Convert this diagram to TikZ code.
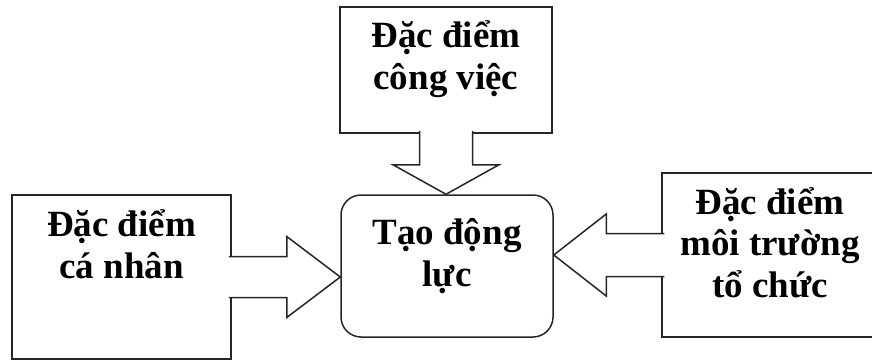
\documentclass[tikz,border=0pt]{standalone}
\usepackage{fontspec}
\setmainfont{Liberation Serif}
\usetikzlibrary{calc}

\begin{document}
\begin{tikzpicture}[
  x=1pt, y=-1pt,
  box/.style={draw=black!85, line width=1.5pt, inner sep=0pt},
  caption/.style={font=\bfseries\fontsize{37}{41.5}\selectfont, align=center, anchor=base, inner sep=0pt},
  blockarrow/.style={draw=black!85, fill=white, line width=1.5pt, line join=miter}
]
\path[use as bounding box, clip] (0,0) rectangle (872,360);

% Boxes
\node[box, minimum width=212pt, minimum height=126pt] (job) at (446,70) {};
\node[box, rounded corners=20pt, minimum width=212pt, minimum height=142pt] (motive) at (447,266) {};
\node[box, minimum width=219pt, minimum height=164pt] (person) at (121.5,277) {};
\node[box, minimum width=216pt, minimum height=164pt] (env) at (770,255) {};

% Texts (base = baseline of the last line)
\node[caption] (jobtext) at ($(job.north)+(0,83)$) {Đặc điểm\\công việc};
\node[caption] (motivetext) at ($(motive.north)+(0,92)$) {Tạo động\\lực};
\node[caption] (persontext) at ($(person.north)+(0,84)$) {Đặc điểm\\cá nhân};
\node[caption] (envtext) at ($(env.north)+(0,125)$) {Đặc điểm\\môi trường\\tổ chức};

% Block arrows into the middle box
\filldraw[blockarrow] ($(job.south)+(-26.5,-3)$) -- ++(0,34) -- ++(-26.5,0)
  -- (job.south |- motive.north) -- ($(job.south)+(53,31)$) -- ++(-26.5,0) -- ++(0,-34);
\filldraw[blockarrow] ($(person.east)+(-3,-20.5)$) -- ++(58,0) -- ++(0,-20)
  -- (motive.west |- person.east) -- ($(person.east)+(55,40.5)$) -- ++(0,-20) -- ++(-58,0);
\filldraw[blockarrow] ($(env.west)+(3,-21.5)$) -- ++(-58,0) -- ++(0,-19.5)
  -- (motive.east |- env.west) -- ($(env.west)+(-55,41)$) -- ++(0,-19.5) -- ++(58,0);

\end{tikzpicture}
\end{document}
